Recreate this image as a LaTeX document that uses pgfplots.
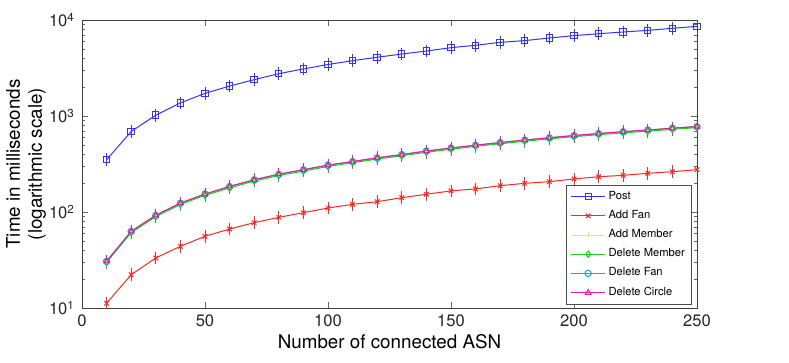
\documentclass[border=0pt]{standalone}
\usepackage{pgfplots}
\pgfplotsset{compat=1.18}
\usepackage{fontspec}
\setmainfont{TeX Gyre Heros}

\pgfplotstableread{
x post addfan addmember delmember delfan delcircle
10 350 11.2 30.4 29.8 30.6 30.8
20 690 22.2 62.4 61.0 62.8 63.0
30 1020 33.2 91.6 89.5 92.0 92.5
40 1370 43.9 123 120 123.5 124
50 1720 55.8 153 149 153.5 154
60 2050 66.5 183 178 184 185
70 2390 77.4 215 210 216 217
80 2760 88.0 247 240 247 248
90 3090 98.4 274 267 275 276
100 3440 110 306 298 307 308
110 3770 120 334 326 335 336
120 4090 128 365 356 366 367
130 4420 141 395 385 396 397
140 4750 153 430 419 431 432
150 5150 166 462 451 463 464
160 5450 174 495 483 496 497
170 5850 188 527 514 528 529
180 6100 199 560 546 561 562
190 6500 207 592 578 593 594
200 6870 221 624 609 625 626
210 7200 233 655 639 656 657
220 7500 241 685 668 686 687
230 7800 253 712 695 713 714
240 8190 263 745 727 746 747
250 8590 276 775 757 776 777
}\data

\begin{document}
\begin{tikzpicture}
\begin{axis}[
    name=ax,
    scale only axis,
    width=307.5pt, height=144pt,
    xmin=0, xmax=250,
    ymode=log, ymin=10, ymax=10000,
    xtick={0,50,100,150,200,250},
    ytick={10,100,1000,10000},
    yticklabels={10\textsuperscript{1},10\textsuperscript{2},10\textsuperscript{3},10\textsuperscript{4}},
    /pgf/number format/assume math mode=true,
    tick label style={font=\fontsize{8.3}{9}\selectfont, text=black!85},
    label style={font=\fontsize{9.4}{11}\selectfont},
    xlabel={Number of connected ASN},
    ylabel={Time in milliseconds\\(logarithmic scale)},
    ylabel style={align=center, at={(rel axis cs:-0.047,0.5)}, anchor=south},
    xlabel style={yshift=3pt},
    axis line style={black!75},
    tick style={black!60},
    major tick length=3pt, minor tick length=1.5pt,
    legend style={at={(rel axis cs:0.992,0.012)}, anchor=south east,
        font=\fontsize{5.6}{6}\selectfont, draw=black!70, line width=0.4pt,
        row sep=1.2pt, inner xsep=2pt, inner ysep=1.5pt,
        nodes={inner sep=1.4pt}},
    legend cell align=left,
    every axis plot/.append style={line width=0.5pt, mark size=1.6pt},
    error bars/y dir=both,
    error bars/y fixed relative=0.008,
    error bars/error mark options={mark size=3pt, line width=0.4pt},
]
\addplot[color=blue!80, mark=square, error bars/error bar style={blue!80}] table[x=x, y=post] {\data};
\addlegendentry{Post}
\addplot[color=red!85, mark=x, error bars/error bar style={red!85}] table[x=x, y=addfan] {\data};
\addlegendentry{Add Fan}
\addplot[color=yellow, mark=+, error bars/error bar style={yellow}] table[x=x, y=addmember] {\data};
\addlegendentry{Add Member}
\addplot[color=green!80!black!90, mark=diamond, error bars/error bar style={green!80!black}] table[x=x, y=delmember] {\data};
\addlegendentry{Delete Member}
\addplot[color=cyan, mark=o, error bars/error bar style={cyan}] table[x=x, y=delfan] {\data};
\addlegendentry{Delete Fan}
\addplot[color=magenta!90, mark=triangle, error bars/error bar style={magenta!90}] table[x=x, y=delcircle] {\data};
\addlegendentry{Delete Circle}
\end{axis}
\pgfresetboundingbox
\path[use as bounding box] (ax.south west) ++(-41pt,-27pt) rectangle ([shift={(46pt,10pt)}]ax.north east);
\end{tikzpicture}
\end{document}
